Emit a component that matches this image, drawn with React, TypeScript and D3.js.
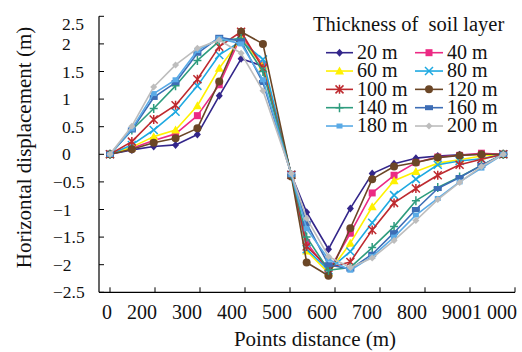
import React from "react";
import * as d3 from "d3";

const distances = [0, 50, 100, 150, 200, 250, 300, 350, 415, 450, 500, 550, 600, 650, 700, 750, 800, 850, 900];
const xTickLabels = ["0", "200", "300", "400", "500", "600", "700", "800", "900", "1 000"];
const yTicks = [-2.5, -2, -1.5, -1, -0.5, 0, 0.5, 1, 1.5, 2, 2.5];
const seriesNames = ["20 m", "40 m", "60 m", "80 m", "100 m", "120 m", "140 m", "160 m", "180 m", "200 m"];

const s20 = [0, 0.08, 0.14, 0.17, 0.36, 1.06, 1.73, 1.6, -0.37, -1.05, -1.72, -0.98, -0.35, -0.17, -0.07, -0.03, -0.01, 0, 0];
const s40 = [0, 0.11, 0.25, 0.37, 0.7, 1.26, 2.15, 1.62, -0.37, -1.6, -2.12, -1.43, -0.7, -0.38, -0.15, -0.05, -0.02, 0.02, 0];
const s60 = [0, 0.13, 0.32, 0.44, 0.88, 1.56, 2.1, 1.6, -0.37, -1.75, -2.15, -1.61, -0.95, -0.48, -0.31, -0.16, -0.1, -0.03, 0];
const s80 = [0, 0.17, 0.44, 0.77, 1.24, 1.8, 2.05, 1.72, -0.37, -1.72, -2.1, -1.76, -1.24, -0.74, -0.45, -0.19, -0.12, -0.08, 0];
const s100 = [0, 0.23, 0.63, 0.89, 1.36, 1.95, 2.22, 1.56, -0.37, -1.67, -2.05, -1.95, -1.37, -0.88, -0.62, -0.38, -0.19, -0.09, 0];
const s120 = [0, 0.09, 0.21, 0.29, 0.47, 1.32, 2.22, 2.0, -0.4, -1.96, -2.2, -1.34, -0.45, -0.22, -0.15, -0.06, -0.02, 0, 0];
const s140 = [0, 0.44, 0.83, 1.24, 1.7, 2.05, 2.1, 1.5, -0.37, -1.5, -2.1, -2.05, -1.69, -1.31, -0.84, -0.6, -0.41, -0.2, 0];
const s160 = [0, 0.44, 1.03, 1.3, 1.83, 2.12, 2.05, 1.3, -0.37, -1.25, -2.0, -2.08, -1.81, -1.42, -1.0, -0.62, -0.42, -0.2, 0];
const s180 = [0, 0.46, 1.1, 1.35, 1.88, 2.1, 2.0, 1.35, -0.37, -1.35, -1.9, -2.1, -1.85, -1.5, -1.1, -0.8, -0.5, -0.25, 0];
const s200 = [0, 0.51, 1.22, 1.62, 1.92, 2.07, 1.83, 1.15, -0.35, -1.16, -1.85, -2.05, -1.88, -1.56, -1.2, -0.82, -0.51, -0.22, 0];

const seriesValues = [s20, s40, s60, s80, s100, s120, s140, s160, s180, s200];
const colors = ["#33268A", "#EC2A84", "#FFF100", "#1EA9E1", "#BE2A2F", "#6B4626", "#2E9C7E", "#3D6DB5", "#5AAAE6", "#BDBDBD"];
const markers = ["diamond", "square", "triangle", "x", "asterisk", "circle", "plus", "rect", "smallsquare", "smalldiamond"];

const FONT = "'Liberation Serif', 'Times New Roman', serif";

function Marker({ type, x, y, color }: { type: string; x: number; y: number; color: string }) {
  switch (type) {
    case "diamond":
      return <path d={`M${x},${y - 4}L${x + 3.5},${y}L${x},${y + 4}L${x - 3.5},${y}Z`} fill={color} />;
    case "square":
      return <rect x={x - 3.5} y={y - 3.5} width={7} height={7} fill={color} />;
    case "triangle":
      return <path d={`M${x},${y - 4.5}L${x + 4.5},${y + 3.5}L${x - 4.5},${y + 3.5}Z`} fill={color} />;
    case "x":
      return (
        <path d={`M${x - 4},${y - 4}L${x + 4},${y + 4}M${x - 4},${y + 4}L${x + 4},${y - 4}`} stroke={color} strokeWidth={1.5} />
      );
    case "asterisk":
      return (
        <path
          d={`M${x - 4},${y - 4}L${x + 4},${y + 4}M${x - 4},${y + 4}L${x + 4},${y - 4}M${x},${y - 4.5}L${x},${y + 4.5}`}
          stroke={color}
          strokeWidth={1.5}
        />
      );
    case "circle":
      return <circle cx={x} cy={y} r={4} fill={color} />;
    case "plus":
      return <path d={`M${x - 4},${y}L${x + 4},${y}M${x},${y - 4.5}L${x},${y + 4.5}`} stroke={color} strokeWidth={1.5} />;
    case "rect":
      return <rect x={x - 4} y={y - 2.5} width={8} height={5} fill={color} />;
    case "smallsquare":
      return <rect x={x - 3} y={y - 2.5} width={6} height={5} fill={color} />;
    case "smalldiamond":
    default:
      return <path d={`M${x},${y - 3.5}L${x + 3.5},${y}L${x},${y + 3.5}L${x - 3.5},${y}Z`} fill={color} />;
  }
}

export default function App() {
  const W = 522;
  const H = 352;
  const x = d3.scaleLinear().domain([0, 900]).range([110, 503.3]);
  const y = d3.scaleLinear().domain([-2.5, 2.5]).range([292.3, 16.3]);
  const xTick = d3.scalePoint<string>().domain(xTickLabels).range([110, 515]);
  const axisX0 = 99;

  const line = d3
    .line<number>()
    .x((_, i) => x(distances[i]))
    .y((d) => y(d));

  const legendRow = (i: number) => 52.7 + Math.floor(i / 2) * 18.33;
  const legendCol = (i: number) => (i % 2 === 0 ? { l0: 326, l1: 353, m: 339.5, t: 357 } : { l0: 415, l1: 443, m: 429, t: 447 });

  return (
    <svg width={W} height={H} style={{ position: "absolute", left: 0, top: 0, background: "#fff" }} fontFamily={FONT}>
      <rect width={W} height={H} fill="#fff" />
      {/* series */}
      {seriesValues.map((vals, si) => (
        <g key={si}>
          <path d={line(vals) || ""} fill="none" stroke={colors[si]} strokeWidth={1.6} strokeLinejoin="round" />
          {vals.map((v, i) => (
            <Marker key={i} type={markers[si]} x={x(distances[i])} y={y(v)} color={colors[si]} />
          ))}
        </g>
      ))}
      {/* y axis */}
      <line x1={axisX0} x2={axisX0} y1={y(2.5)} y2={y(-2.5)} stroke="#000" strokeWidth={1.2} />
      {yTicks.map((t) => (
        <g key={t}>
          <line x1={axisX0} x2={axisX0 + 5} y1={y(t)} y2={y(t)} stroke="#000" strokeWidth={1} />
          <text
            x={t < 0 ? 53 : 62}
            y={Math.max(y(t), 24)}
            dy="0.35em"
            fontSize={17.5}
            fill="#111"
          >
            {t < 0 ? "\u2212" + Math.abs(t) : String(t)}
          </text>
        </g>
      ))}
      {/* x axis */}
      <line x1={axisX0} x2={515} y1={y(-2.5)} y2={y(-2.5)} stroke="#000" strokeWidth={1.2} />
      {xTickLabels.map((lab) => (
        <g key={lab}>
          <line x1={xTick(lab)} x2={xTick(lab)} y1={y(-2.5)} y2={y(-2.5) - 5} stroke="#000" strokeWidth={1} />
          <text x={(xTick(lab) as number) + 2} y={318.5} textAnchor="end" fontSize={20} fill="#111">
            {lab}
          </text>
        </g>
      ))}
      {/* axis titles */}
      <text x={315} y={346} textAnchor="middle" fontSize={21} fill="#111">
        Points distance (m)
      </text>
      <text transform={`translate(31,147.5) rotate(-90)`} textAnchor="middle" fontSize={21} fill="#111">
        Horizontal displacement (m)
      </text>
      {/* legend */}
      <text x={313} y={31} fontSize={20.5} fill="#111" style={{ whiteSpace: "pre" }}>
        {"Thickness of  soil layer"}
      </text>
      {seriesNames.map((name, i) => {
        const c = legendCol(i);
        const cy = legendRow(i);
        return (
          <g key={name}>
            <line x1={c.l0} x2={c.l1} y1={cy} y2={cy} stroke={colors[i]} strokeWidth={1.6} />
            <Marker type={markers[i]} x={c.m} y={cy} color={colors[i]} />
            <text x={c.t} y={cy + 6.2} fontSize={20} fill="#111">
              {name}
            </text>
          </g>
        );
      })}
    </svg>
  );
}
